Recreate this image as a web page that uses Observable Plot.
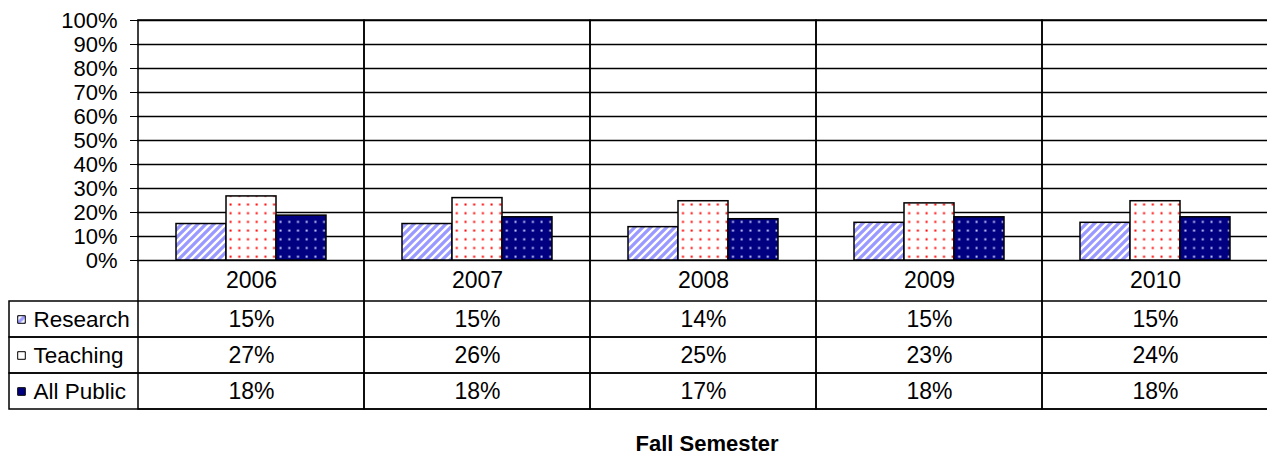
<!DOCTYPE html>
<html><head><meta charset="utf-8">
<script src="https://cdn.jsdelivr.net/npm/d3@7"></script>
<script src="https://cdn.jsdelivr.net/npm/@observablehq/plot@0.6"></script>
<style>body{margin:0;background:#fff;overflow:hidden} svg{display:block}</style>
</head><body><div id="chart"></div>
<script>
// ---- data ----
const years = ["2006", "2007", "2008", "2009", "2010"];
const seriesNames = ["Research", "Teaching", "All Public"];
const research  = [0.152, 0.152, 0.139, 0.157, 0.157];
const teaching  = [0.267, 0.260, 0.247, 0.238, 0.247];
const allPublic = [0.187, 0.180, 0.172, 0.180, 0.180];
const researchLabels  = ["15%", "15%", "14%", "15%", "15%"];
const teachingLabels  = ["27%", "26%", "25%", "23%", "24%"];
const allPublicLabels = ["18%", "18%", "17%", "18%", "18%"];
const yTicks = [0, 0.1, 0.2, 0.3, 0.4, 0.5, 0.6, 0.7, 0.8, 0.9, 1.0];
const xTitle = "Fall Semester";

// ---- layout (pixels) ----
const W = 1267, H = 455, ML = 137, MT = 20, MB = 46, MR = -1;
const zeroPx = 260, unitPx = 240;           // y=0 at 260px, 100% spans 240px
const pv = py => (zeroPx - py) / unitPx;     // pixel row -> y value
const yMin = pv(H - MB);
const yearRow = [260, 301];
const seriesRowsPx = [[301, 337], [337, 373], [373, 409]];
const patterns = ["url(#pResearch)", "url(#pTeaching)", "url(#pAll)"];
const barOffsets = [-50, 0, 50];
const font = "'Liberation Sans', Arial, sans-serif";

const seriesValues = [research, teaching, allPublic];
const seriesLabels = [researchLabels, teachingLabels, allPublicLabels];

const barData = seriesValues.map(vals => years.map((year, i) => ({year, value: vals[i]})));
const legendRows = seriesNames.map((name, s) => ({
  name, fill: patterns[s],
  y1: pv(seriesRowsPx[s][0]), y2: pv(seriesRowsPx[s][1]),
  yc: pv((seriesRowsPx[s][0] + seriesRowsPx[s][1]) / 2)
}));
const tableCells = seriesNames.flatMap((name, s) => years.map((year, i) => ({
  year, label: seriesLabels[s][i], yc: legendRows[s].yc
})));

const marks = [
  Plot.ruleY(yTicks, {stroke: "#000", strokeWidth: 1.3}),
  ...barData.map((d, s) => Plot.barY(d, {
    x: "year", y: "value", fill: patterns[s], stroke: "#000", strokeWidth: 1.5,
    insetLeft: 88, insetRight: 88, dx: barOffsets[s]
  })),
  Plot.barY(years, {x: d => d, y1: yMin, y2: 1, fill: "none", stroke: "#000", strokeWidth: 1.5}),
  Plot.rect(legendRows, {y1: "y1", y2: "y2", insetLeft: -128, fill: "none", stroke: "#000", strokeWidth: 1.5}),
  Plot.text(years, {x: d => d, y: pv((yearRow[0] + yearRow[1]) / 2), text: d => d, fontSize: 23, fill: "#000"}),
  Plot.text(tableCells, {x: "year", y: "yc", text: "label", fontSize: 23, fill: "#000"}),
  Plot.text(legendRows, {y: "yc", frameAnchor: "left", dx: -104, textAnchor: "start", text: "name", fontSize: 22.5, fill: "#000"}),
  Plot.dot(legendRows, {y: "yc", frameAnchor: "left", dx: -116, symbol: "square", r: 4.3, fill: "fill", stroke: "#000", strokeWidth: 1}),
  Plot.text([xTitle], {frameAnchor: "bottom", lineAnchor: "middle", dy: 34, dx: 4, text: d => d, fontSize: 22, fontWeight: "bold", fill: "#000"})
];

const chart = Plot.plot({
  width: W, height: H,
  marginLeft: ML, marginRight: MR, marginTop: MT, marginBottom: MB,
  style: {fontFamily: font, fontSize: "22px", color: "#000", background: "#fff", overflow: "visible"},
  x: {domain: years, padding: 0, axis: null},
  y: {domain: [yMin, 1], ticks: yTicks, tickFormat: d3.format(".0%"), tickSize: 7, tickPadding: 13, label: null},
  color: {type: "identity"},
  marks
});

// pattern definitions
const defs = d3.select(chart).insert("defs", ":first-child");
const pr = defs.append("pattern").attr("id", "pResearch").attr("patternUnits", "userSpaceOnUse").attr("width", 8).attr("height", 8);
pr.append("rect").attr("width", 8).attr("height", 8).attr("fill", "#fff");
pr.append("path").attr("d", "M-2,2 L2,-2 M0,8 L8,0 M6,10 L10,6").attr("stroke", "#9999ff").attr("stroke-width", 3.3);
const pt = defs.append("pattern").attr("id", "pTeaching").attr("patternUnits", "userSpaceOnUse").attr("width", 8.7).attr("height", 8.7);
pt.append("rect").attr("width", 8.7).attr("height", 8.7).attr("fill", "#fff");
pt.append("rect").attr("x", 3.4).attr("y", 3.4).attr("width", 2).attr("height", 2).attr("fill", "#ff0000");
const pa = defs.append("pattern").attr("id", "pAll").attr("patternUnits", "userSpaceOnUse").attr("width", 8.7).attr("height", 8.7);
pa.append("rect").attr("width", 8.7).attr("height", 8.7).attr("fill", "#000080");
pa.append("rect").attr("x", 3.4).attr("y", 3.4).attr("width", 2).attr("height", 2).attr("fill", "#c8c8ff");

document.getElementById("chart").append(chart);
</script>
</body></html>
